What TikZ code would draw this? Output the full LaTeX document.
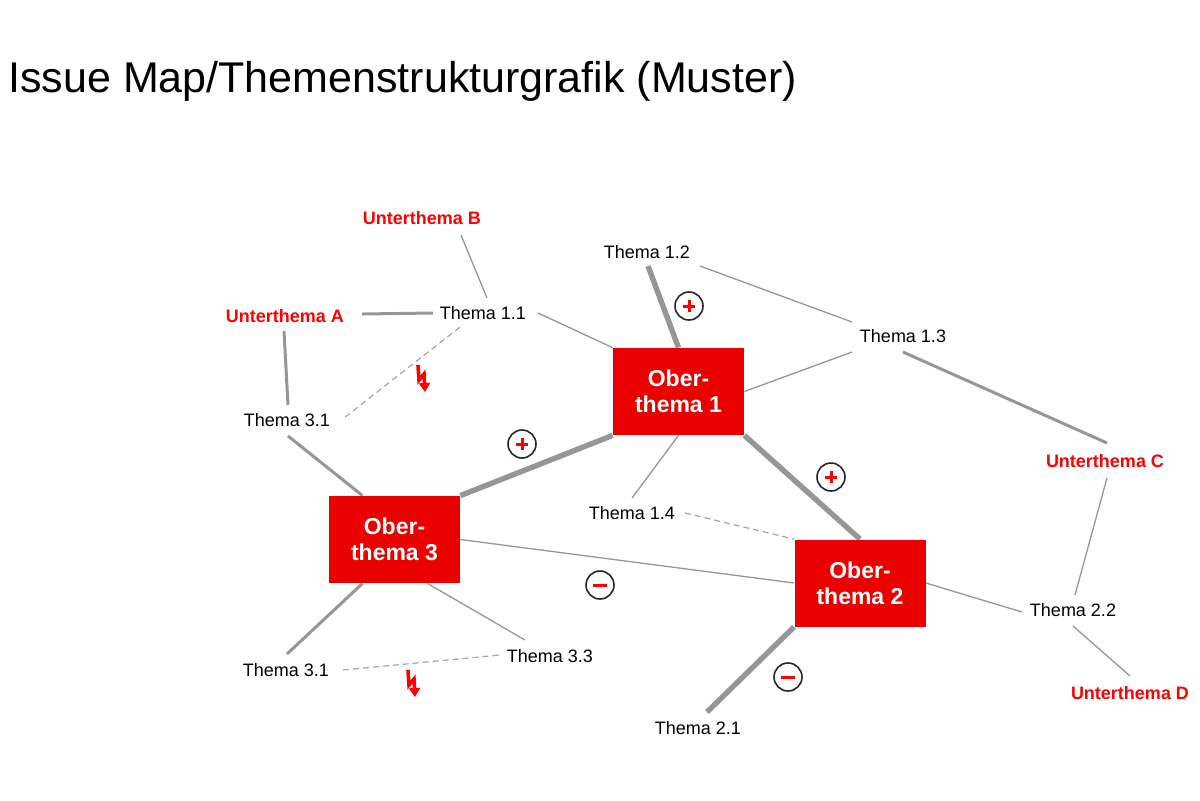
\documentclass[tikz,border=0pt]{standalone}
\usepackage{fontspec}
\setmainfont{Liberation Sans}
\usetikzlibrary{arrows.meta,backgrounds}
\definecolor{boxred}{RGB}{235,0,0}
\definecolor{txtred}{RGB}{255,0,0}
\definecolor{edgegray}{RGB}{150,150,150}
\definecolor{dashgray}{RGB}{165,165,165}
\definecolor{ringgray}{RGB}{40,40,40}
\begin{document}
\begin{tikzpicture}[x=0.5pt,y=-0.5pt,
  lbl/.style={inner sep=0pt, font=\fontsize{9}{11}\selectfont, text=black},
  sub/.style={inner sep=0pt, font=\fontsize{9}{11}\selectfont\bfseries, text=txtred},
  ober/.style={fill=boxred, draw=none, minimum width=65.5pt, minimum height=43.5pt, inner sep=0pt, align=center, text=white, font=\fontsize{11.5}{12.8}\selectfont\bfseries},
  thinedge/.style={draw=edgegray, line width=0.65pt},
  midedge/.style={draw=edgegray, line width=1.5pt},
  thickedge/.style={draw=edgegray, line width=2.7pt},
  dashedge/.style={draw=dashgray, line width=0.6pt, dash pattern=on 3pt off 2pt},
  sign/.style={circle, draw=ringgray, line width=0.8pt, minimum size=14pt, inner sep=0pt},
  plussign/.style={sign, path picture={\draw[txtred, line width=1.5pt]
     ([xshift=-2.9pt]path picture bounding box.center) -- ([xshift=2.9pt]path picture bounding box.center)
     ([yshift=-2.9pt]path picture bounding box.center) -- ([yshift=2.9pt]path picture bounding box.center);}},
  minussign/.style={sign, path picture={\draw[txtred, line width=1.5pt]
     ([xshift=-3.7pt]path picture bounding box.center) -- ([xshift=3.7pt]path picture bounding box.center);}},
  bolt/.pic={\draw[txtred, line width=1.8pt, line join=miter, -{Triangle[length=4.5pt,width=5.5pt]}]
     (-5,-14) -- (-4,1) -- (1,-5) -- (2,13);}
]
\useasboundingbox (0,0) rectangle (1200,800);

\node[anchor=base west, inner sep=0pt, font=\fontsize{21.5}{24}\selectfont] (title) at (8,92) {Issue Map/Themenstrukturgrafik (Muster)};

% boxes
\node[ober] (o1) at (678.5,391.5) {Ober-\\thema 1};
\node[ober] (o3) at (394.5,539.5) {Ober-\\thema 3};
\node[ober] (o2) at (860,583) {Ober-\\thema 2};

% labels
\node[sub] (ub) at (422,218) {Unterthema B};
\node[sub] (ua) at (285,316) {Unterthema A};
\node[sub] (uc) at (1105,461) {Unterthema C};
\node[sub] (ud) at (1130,693) {Unterthema D};
\node[lbl] (t12) at (647,252) {Thema 1.2};
\node[lbl] (t11) at (483,313) {Thema 1.1};
\node[lbl] (t13) at (903,336) {Thema 1.3};
\node[lbl] (t31a) at (287,420) {Thema 3.1};
\node[lbl] (t14) at (632,513) {Thema 1.4};
\node[lbl] (t22) at (1073,610) {Thema 2.2};
\node[lbl] (t31b) at (286,670) {Thema 3.1};
\node[lbl] (t33) at (550,656) {Thema 3.3};
\node[lbl] (t21) at (698,728) {Thema 2.1};

% signs
\node[plussign] (p1) at (689,306) {};
\node[plussign] (p2) at (522,444) {};
\node[plussign] (p3) at (831,477) {};
\node[minussign] (m1) at (600,585) {};
\node[minussign] (m2) at (788,677) {};

\pic at (423,379) {bolt};
\pic at (413,684) {bolt};

\begin{scope}[on background layer]
\draw[thinedge] ([shift={(39,17)}]ub.center) -- ([shift={(4,-15)}]t11.center);
\draw[midedge] ([shift={(77,-2)}]ua.center) -- ([shift={(-50,0)}]t11.center);
\draw[midedge] ([shift={(-1,15)}]ua.center) -- ([shift={(1,-15)}]t31a.center);
\draw[dashedge] ([shift={(-23,14)}]t11.center) -- ([shift={(57,-2)}]t31a.center);
\draw[thinedge] ([shift={(55,0)}]t11.center) -- (o1.north west);
\draw[thickedge] ([shift={(1,14)}]t12.center) -- (o1.north);
\draw[thinedge] ([shift={(53,14)}]t12.center) -- ([shift={(-51,-14)}]t13.center);
\draw[thinedge] ([shift={(-51,16)}]t13.center) -- (o1.east);
\draw[midedge] ([shift={(0,16)}]t13.center) -- ([shift={(2,-18)}]uc.center);
\draw[thinedge] ([shift={(2,17)}]uc.center) -- ([shift={(2,-15)}]t22.center);
\draw[thinedge] ([shift={(0,16)}]t22.center) -- ([shift={(0,-17)}]ud.center);
\draw[thinedge] (o2.east) -- ([shift={(-51,2)}]t22.center);
\draw[thickedge] (o1.south east) -- (o2.north);
\draw[thinedge] (o1.south) -- ([shift={(0,-15)}]t14.center);
\draw[dashedge] ([shift={(53,0)}]t14.center) -- (o2.north west);
\draw[thickedge] (o3.north east) -- (o1.south west);
\draw[midedge] ([shift={(1,16)}]t31a.center) -- ([shift={(-32,0)}]o3.north);
\draw[thinedge] (o3.east) -- (o2.west);
\draw[midedge] ([shift={(-32,0)}]o3.south) -- ([shift={(1,-16)}]t31b.center);
\draw[thinedge] ([shift={(33,0)}]o3.south) -- ([shift={(-25,-16)}]t33.center);
\draw[dashedge] ([shift={(57,0)}]t31b.center) -- ([shift={(-50,-1)}]t33.center);
\draw[thickedge] (o2.south west) -- ([shift={(9,-16)}]t21.center);
\end{scope}
\end{tikzpicture}
\end{document}
